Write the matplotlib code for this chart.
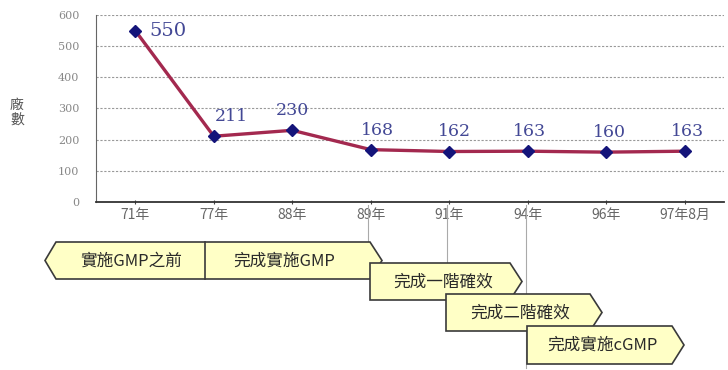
import numpy as np
import matplotlib
matplotlib.use("Agg")
import matplotlib.pyplot as plt
from matplotlib.patches import Polygon

plt.rcParams['font.family'] = ['Noto Sans CJK TC', 'DejaVu Sans']

# datos del grafico
years = ['71年', '77年', '88年', '89年', '91年', '94年', '96年', '97年8月']
counts = [550, 211, 230, 168, 162, 163, 160, 163]
y_ticks = [0, 100, 200, 300, 400, 500, 600]
phases = ['實施GMP之前', '完成實施GMP', '完成一階確效', '完成二階確效', '完成實施cGMP']

fig = plt.figure(figsize=(7.28, 3.70), dpi=100)
ax = fig.add_axes([96/728, 1 - 202/370, 628/728, 187/370])

x = np.arange(len(years))
ax.plot(x, counts, color='#a3294f', lw=2.4, zorder=3)
ax.plot(x, counts, ls='none', marker='D', ms=6, color='#14147a', zorder=4)

# etiquetas de valores
offs = [(0, 0), (13, 8), (0, 8), (5, 8), (4, 8), (1, 8), (2, 8), (2, 8)]
for i, v in enumerate(counts):
    if i == 0:
        ax.annotate(str(v), (i, v), xytext=(10, 0), textcoords='offset points',
                    ha='left', va='center', fontsize=14, color='#434895',
                    family='DejaVu Serif')
    else:
        ax.annotate(str(v), (i, v), xytext=offs[i], textcoords='offset points',
                    ha='center', va='bottom', fontsize=12.5, color='#434895',
                    family='DejaVu Serif')

ax.set_xlim(-0.5, 7.5)
ax.set_ylim(0, 600)
ax.set_yticks(y_ticks)
ax.set_yticklabels([str(t) for t in y_ticks], family='DejaVu Serif',
                   fontsize=8, color='#888888')
ax.set_xticks(x)
ax.set_xticklabels(years, fontsize=10, color='#666666')
ax.tick_params(axis='y', length=0, pad=12)
ax.tick_params(axis='x', length=3, direction='inout', color='#444444', pad=3)
ax.grid(axis='y', ls=(0, (2, 1.5)), color='#999999', lw=0.8)
for s in ['top', 'right']:
    ax.spines[s].set_visible(False)
ax.spines['left'].set_color('#666666')
ax.spines['bottom'].set_color('#333333')
ax.spines['bottom'].set_linewidth(1.3)

fig.text(17/728, 1 - 112/370, '廠\n數', fontsize=10, color='#555555',
         ha='center', va='center', linespacing=1.1)

# capa de las flechas (coordenadas en pixeles)
ov = fig.add_axes([0, 0, 1, 1], zorder=5)
ov.set_xlim(0, 728)
ov.set_ylim(370, 0)
ov.axis('off')
ov.patch.set_alpha(0)

# lineas verticales guia
for xv, yb in [(368, 265), (447, 300), (526, 368)]:
    ov.plot([xv, xv], [205, yb], color='#aaaaaa', lw=0.8, zorder=1)

fill = '#ffffc6'
edge = '#3a3a3a'

def shape(x0, x1, y0, y1, left_point=False, tip=12):
    ym = (y0 + y1) / 2
    pts = []
    if left_point:
        pts = [(x0 - 11, ym), (x0, y0), (x1, y0), (x1 + tip, ym), (x1, y1), (x0, y1)]
    else:
        pts = [(x0, y0), (x1, y0), (x1 + tip, ym), (x1, y1), (x0, y1)]
    return Polygon(pts, closed=True, facecolor=fill, edgecolor=edge, lw=1.2, zorder=2)

boxes = [
    (56, 370, 242, 279, True),
    (370, 510, 263, 300, False),
    (446, 590, 294, 331, False),
    (527, 672, 326, 364, False),
]
for b in boxes:
    ov.add_patch(shape(*b))
ov.plot([205, 205], [242, 279], color=edge, lw=1.2, zorder=3)

txt = dict(fontsize=12, color='#2a2a2a', va='center', zorder=4)
ov.text(131, 261, phases[0], ha='center', **txt)
ov.text(284, 261, phases[1], ha='center', **txt)
ov.text(443, 282, phases[2], ha='center', **txt)
ov.text(520, 313, phases[3], ha='center', **txt)
ov.text(602, 345, phases[4], ha='center', **txt)

plt.savefig('out.png', dpi=100)
